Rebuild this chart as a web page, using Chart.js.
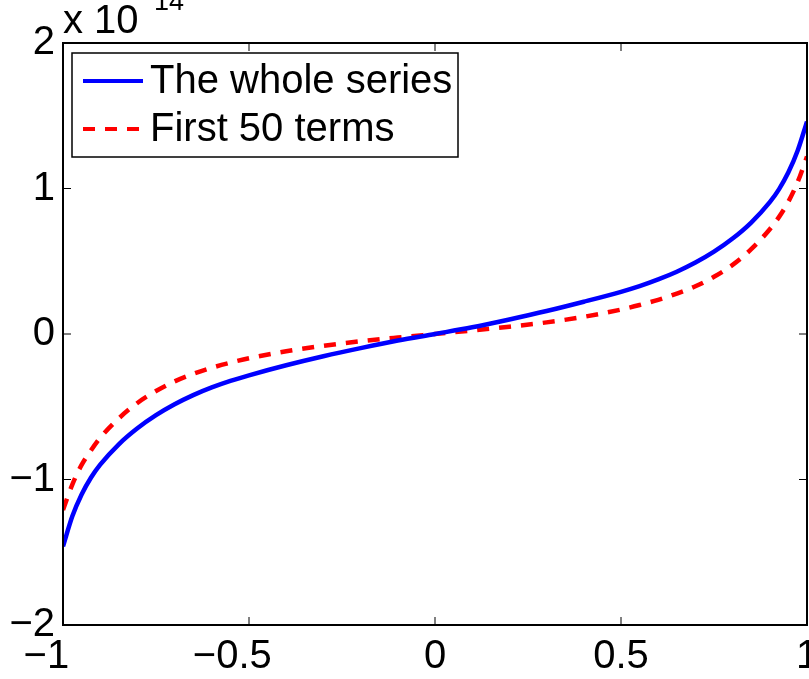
<!DOCTYPE html>
<html>
<head>
<meta charset="utf-8">
<script src="https://cdn.jsdelivr.net/npm/chart.js@4.4.0/dist/chart.umd.min.js"></script>
<style>
  html,body{margin:0;padding:0;background:#fff;}
  #wrap{width:809px;height:679px;}
</style>
</head>
<body>
<div id="wrap"><canvas id="plot" width="809" height="679"></canvas></div>
<script>
/* ====================== DATA ======================= */
// sample abscissae on [-1, 1], denser near the ends
const xs = [-1, -0.975, -0.95, -0.925, -0.9, -0.85, -0.8, -0.75, -0.7, -0.65, -0.6, -0.55, -0.5, -0.4, -0.3, -0.2, -0.1,
             0, 0.1, 0.2, 0.3, 0.4, 0.5, 0.55, 0.6, 0.65, 0.7, 0.75, 0.8, 0.85, 0.9, 0.925, 0.95, 0.975, 1];
// values in units of 10^14
const wholeSeries = [-1.46, -1.253, -1.103, -0.988, -0.898, -0.758, -0.648, -0.558, -0.483, -0.42, -0.367, -0.322, -0.284, -0.215, -0.153, -0.097, -0.045,
                      0, 0.046, 0.10, 0.158, 0.222, 0.29, 0.329, 0.375, 0.428, 0.491, 0.566, 0.656, 0.766, 0.906, 0.996, 1.111, 1.261, 1.46];
const first50 = [-1.21, -1.035, -0.90, -0.80, -0.713, -0.58, -0.474, -0.392, -0.326, -0.274, -0.232, -0.197, -0.167, -0.119, -0.081, -0.050, -0.024,
                  0, 0.024, 0.050, 0.080, 0.118, 0.168, 0.199, 0.235, 0.278, 0.328, 0.393, 0.475, 0.583, 0.72, 0.805, 0.91, 1.045, 1.22];
const seriesNames = ['The whole series', 'First 50 terms'];
const xRange = [-1, 1], xStep = 0.5;
const yRange = [-2, 2], yStep = 1;
const yExponent = '14';

/* ====================== UTILS ====================== */
const FONT = 'Liberation Sans, Arial, Helvetica, sans-serif';
const FSIZE = 40;
const minus = v => v < 0 ? '\u2212' + Math.abs(v) : String(v);
const pts = ys => xs.map((x, i) => ({x, y: ys[i]}));

/* frame, inward ticks, exponent and legend */
const axesBox = {
  id: 'axesBox',
  afterDatasetsDraw(chart){
    const {ctx, chartArea: a, scales: {x, y}} = chart;
    ctx.save();
    // inward tick marks on all four sides
    ctx.strokeStyle = '#000'; ctx.lineWidth = 1;
    ctx.beginPath();
    x.ticks.forEach(t => {
      const px = x.getPixelForValue(t.value);
      ctx.moveTo(px, a.bottom); ctx.lineTo(px, a.bottom - 8);
      ctx.moveTo(px, a.top);    ctx.lineTo(px, a.top + 8);
    });
    y.ticks.forEach(t => {
      const py = y.getPixelForValue(t.value);
      ctx.moveTo(a.left, py);  ctx.lineTo(a.left + 8, py);
      ctx.moveTo(a.right, py); ctx.lineTo(a.right - 8, py);
    });
    ctx.stroke();
    // box
    ctx.lineWidth = 2;
    ctx.strokeRect(a.left, a.top, a.right - a.left, a.bottom - a.top);

    // exponent label
    ctx.fillStyle = '#000';
    ctx.textAlign = 'left'; ctx.textBaseline = 'alphabetic';
    ctx.font = FSIZE + 'px ' + FONT;
    ctx.fillText('x 10', a.left, 33);
    ctx.font = '27px ' + FONT;
    ctx.fillText(yExponent, 154, 10);

    // legend
    ctx.font = FSIZE + 'px ' + FONT;
    const L = {x: 72, y: 53, w: 386, h: 104};
    ctx.fillStyle = '#fff';
    ctx.fillRect(L.x, L.y, L.w, L.h);
    ctx.lineWidth = 1.5; ctx.strokeStyle = '#000';
    ctx.strokeRect(L.x, L.y, L.w, L.h);
    chart.data.datasets.forEach((ds, i) => {
      const cy = 81 + i * 48;
      ctx.beginPath();
      ctx.strokeStyle = ds.borderColor;
      ctx.lineWidth = 4;
      ctx.setLineDash(ds.borderDash || []);
      ctx.moveTo(83, cy); ctx.lineTo(143, cy);
      ctx.stroke();
      ctx.setLineDash([]);
      ctx.fillStyle = '#000';
      ctx.textBaseline = 'middle';
      ctx.fillText(ds.label, 150, cy + 1);
    });
    ctx.restore();
  }
};

/* ====================== CHART ====================== */
new Chart(document.getElementById('plot'), {
  type: 'line',
  data: {
    datasets: [
      { label: seriesNames[0], data: pts(wholeSeries), borderColor: '#0000ff', borderWidth: 4.5,
        pointRadius: 0, cubicInterpolationMode: 'monotone', fill: false },
      { label: seriesNames[1], data: pts(first50), borderColor: '#ff0000', borderWidth: 4.5,
        borderDash: [12, 10], pointRadius: 0, cubicInterpolationMode: 'monotone', fill: false }
    ]
  },
  options: {
    responsive: false,
    animation: false,
    devicePixelRatio: 1,
    layout: { padding: { top: 43, right: 2, left: 0, bottom: 0 } },
    plugins: { legend: { display: false }, tooltip: { enabled: false } },
    scales: {
      x: {
        type: 'linear', min: xRange[0], max: xRange[1],
        ticks: { stepSize: xStep, color: '#000', padding: 8, maxRotation: 0, autoSkip: false,
                 font: { family: FONT, size: FSIZE },
                 callback: v => v < 0 ? minus(v) + '   ' : minus(v) },
        grid: { display: false, drawTicks: false },
        border: { display: false },
        afterFit: s => { s.height = 54; s.paddingLeft = 0; s.paddingRight = 0; }
      },
      y: {
        type: 'linear', min: yRange[0], max: yRange[1],
        ticks: { stepSize: yStep, color: '#000', padding: 8, autoSkip: false,
                 font: { family: FONT, size: FSIZE },
                 callback: v => minus(v) },
        grid: { display: false, drawTicks: false },
        border: { display: false },
        afterFit: s => { s.width = 63; s.paddingTop = 0; s.paddingBottom = 0; }
      }
    }
  },
  plugins: [axesBox]
});
</script>
</body>
</html>
